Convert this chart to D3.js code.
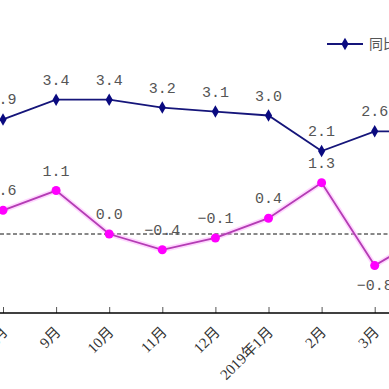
<!DOCTYPE html>
<html><head><meta charset="utf-8">
<script src="https://cdn.jsdelivr.net/npm/d3@7"></script>
<style>html,body{margin:0;padding:0;background:#fff;overflow:hidden}</style>
</head><body>
<script>
const categories = ["8月","9月","10月","11月","12月","2019年1月","2月","3月","4月"];
const yoyValues = [2.9,3.4,3.4,3.2,3.1,3.0,2.1,2.6,2.6];
const momValues = [0.6,1.1,0.0,-0.4,-0.1,0.4,1.3,-0.8,0.0];
const seriesNames = ["同比","环比"];
const momLabelBelow = ["3月"];

const W = 389, H = 389;
const svg = d3.select("body").append("svg").attr("width", W).attr("height", H);

const x = d3.scalePoint().domain(categories).range([3, 3 + 53.1 * (categories.length - 1)]);
const y = d3.scaleLinear().domain([-2, 5]).range([313, 36.5]);

// zero dashed line
svg.append("line").attr("x1", 0).attr("x2", W).attr("y1", y(0)).attr("y2", y(0))
  .attr("stroke", "#111").attr("stroke-width", 1).attr("stroke-dasharray", "4,2.5");

// x axis
const xAxis = d3.axisBottom(x).tickSize(-6).tickSizeOuter(0).tickFormat(d => d);
const gx = svg.append("g").attr("transform", `translate(0,${y(-2)})`).call(xAxis);
gx.select(".domain").remove();
svg.append("line").attr("x1", 0).attr("x2", W).attr("y1", y(-2)).attr("y2", y(-2))
  .attr("stroke", "#000").attr("stroke-width", 1.5);
gx.selectAll(".tick line").attr("stroke", "#555");
gx.selectAll(".tick text")
  .attr("font-family", "'Liberation Serif','Noto Sans CJK SC',serif")
  .attr("font-size", 15).attr("fill", "#333")
  .attr("text-anchor", "end")
  .attr("y", 0).attr("dy", 0)
  .attr("transform", "translate(5,20) rotate(-45)");

const line = d3.line().x((d, i) => x(categories[i])).y(d => y(d));

// magenta series
svg.append("path").datum(momValues).attr("d", line).attr("fill", "none")
  .attr("stroke", "#ff99ff").attr("stroke-opacity", 0.4).attr("stroke-width", 5);
svg.append("path").datum(momValues).attr("d", line).attr("fill", "none")
  .attr("stroke", "#b43cb4").attr("stroke-width", 1.8);
svg.selectAll(".mom").data(momValues).enter().append("circle")
  .attr("cx", (d, i) => x(categories[i])).attr("cy", d => y(d)).attr("r", 4.5)
  .attr("fill", "#ff00ff");

// navy series
svg.append("path").datum(yoyValues).attr("d", line).attr("fill", "none")
  .attr("stroke", "#15157a").attr("stroke-width", 1.8);
const diamond = d3.symbol().type(d3.symbolDiamond).size(45);
svg.selectAll(".yoy").data(yoyValues).enter().append("path")
  .attr("d", diamond)
  .attr("transform", (d, i) => `translate(${x(categories[i])},${y(d)})`)
  .attr("fill", "#0a0a80");

// labels
const fmt = d3.format(".1f");
function labels(vals, below) {
  svg.selectAll(null).data(vals).enter().append("text")
    .attr("x", (d, i) => x(categories[i]))
    .attr("y", (d, i) => y(d) + (below.includes(categories[i]) ? 24 : -15))
    .attr("text-anchor", "middle")
    .attr("font-family", "'Liberation Mono',monospace")
    .attr("font-size", 15).attr("fill", "#555")
    .text(d => fmt(d).replace("-", "−"));
}
labels(yoyValues, []);
labels(momValues, momLabelBelow);

// legend
const lg = svg.append("g").attr("transform", "translate(327,44)");
lg.append("line").attr("x1", 0).attr("x2", 36).attr("stroke", "#15157a").attr("stroke-width", 1.8);
lg.append("path").attr("d", diamond).attr("transform", "translate(18,0)").attr("fill", "#0a0a80");
lg.append("text").attr("x", 42).attr("y", 5).attr("font-family", "'Noto Sans CJK SC',sans-serif")
  .attr("font-size", 14).attr("fill", "#555").text(seriesNames[0]);
</script>
</body></html>
